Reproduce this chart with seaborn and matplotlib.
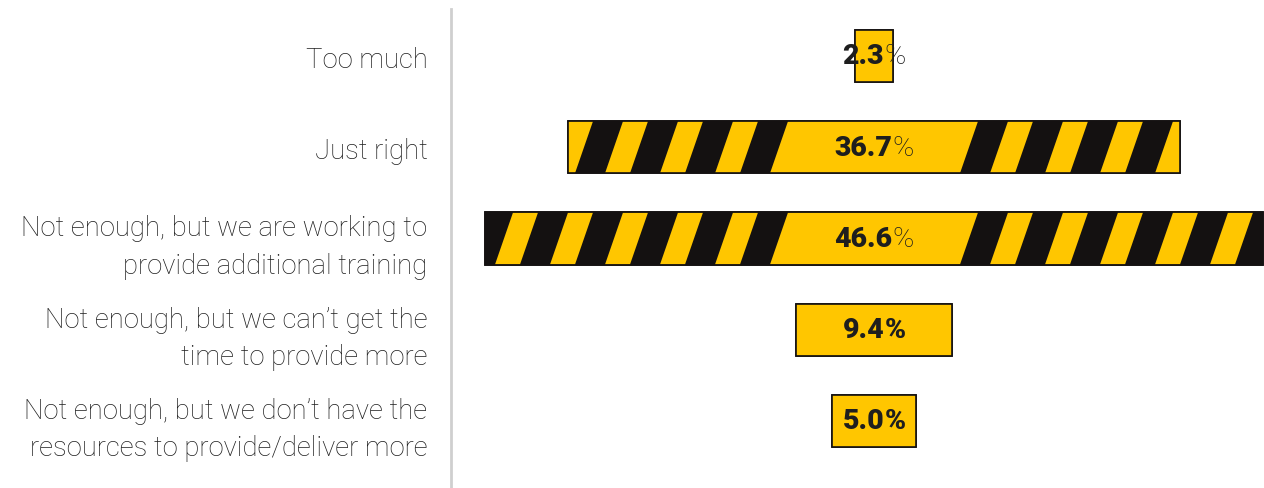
import matplotlib
matplotlib.use("Agg")
import matplotlib.pyplot as plt
from matplotlib.patches import Polygon, Rectangle
import seaborn as sns
import pandas as pd

# ---- data -------------------------------------------------------------
categories = [
    "Too much",
    "Just right",
    "Not enough, but we are working to\nprovide additional training",
    "Not enough, but we can\u2019t get the\ntime to provide more",
    "Not enough, but we don\u2019t have the\nresources to provide/deliver more",
]
shares = [2.3, 36.7, 46.6, 9.4, 5.0]
value_labels = ["2.3", "36.7", "46.6", "9.4", "5.0"]
percent_bold = [False, False, False, True, True]

# ---- style ------------------------------------------------------------
YELLOW = "#FFC600"
BLACK = "#141111"
GREY_LINE = "#cfcfcf"
TEXT = "#1e1e1e"

sns.set_theme(style="white")
plt.rcParams["font.family"] = ["Roboto", "DejaVu Sans"]

W, H = 1264, 489
fig = plt.figure(figsize=(W / 100, H / 100), dpi=100)
ax_left_px, ax_top_px = 451, 10
ax = fig.add_axes([ax_left_px / W, 0, 1 - ax_left_px / W, 1 - ax_top_px / H])

df = pd.DataFrame({"category": categories, "share": shares})
bar_h = 0.57
sns.barplot(data=df, y="category", x="share", orient="h", color=BLACK,
            saturation=1, width=bar_h, edgecolor=BLACK, linewidth=1.2, ax=ax)

# axis geometry: bars centred on x = 0
px_per_pct = 16.674
center_px = 874
ax.set_xlim((ax_left_px - center_px) / px_per_pct, (W - center_px) / px_per_pct)
row_px = 91.25
ax.set_ylim(4 + 67 / row_px, -47 / row_px)

# hazard stripe geometry, in pixels
half_plate = 95.0   # half-width of the central yellow plate at mid-height
black_w, yellow_w = 30.0, 25.0
lean = 9.0          # horizontal shift between mid-height and top/bottom


def stripe(x0_px, x1_px, yc, h):
    a, b = x0_px / px_per_pct, x1_px / px_per_pct
    d = lean / px_per_pct
    top, bot = yc - h / 2, yc + h / 2
    return [(a - d, bot), (b - d, bot), (b + d, top), (a + d, top)]


for i, patch in enumerate(ax.patches):
    w = patch.get_width()
    patch.set_x(-w / 2)
    yc = patch.get_y() + patch.get_height() / 2
    h = patch.get_height()
    spans = [(-half_plate, half_plate)]
    k = 0
    while half_plate + black_w + k * (black_w + yellow_w) < 460:
        s = half_plate + black_w + k * (black_w + yellow_w)
        spans.append((s, s + yellow_w))
        spans.append((-s - yellow_w, -s))
        k += 1
    for x0, x1 in spans:
        poly = Polygon(stripe(x0, x1, yc, h), closed=True, facecolor=YELLOW,
                       edgecolor="none", zorder=3)
        ax.add_patch(poly)
        poly.set_clip_path(patch)
    ax.add_patch(Rectangle((patch.get_x(), patch.get_y()), w, h, fill=False,
                           edgecolor=BLACK, linewidth=1.2, zorder=4))

# value labels: bold number followed by a light or bold percent sign
fig.canvas.draw()
renderer = fig.canvas.get_renderer()
for i, patch in enumerate(ax.patches[:len(shares)]):
    yc = patch.get_y() + patch.get_height() / 2
    num = ax.text(0, yc, value_labels[i], ha="left", va="center",
                  fontsize=20.5, fontweight="heavy", color=TEXT, zorder=5)
    pct = ax.text(0, yc, "%", ha="left", va="center", fontsize=20.5,
                  fontweight="heavy" if percent_bold[i] else "light",
                  color=TEXT, zorder=5)
    wn = num.get_window_extent(renderer).width
    wp = pct.get_window_extent(renderer).width
    total = wn + wp
    num.set_x(-total / 2 / px_per_pct)
    pct.set_x((-total / 2 + wn) / px_per_pct)

# category labels and divider line
ax.set_xlabel("")
ax.set_ylabel("")
ax.set_xticks([])
ax.tick_params(axis="y", length=0, pad=17)
for lab in ax.get_yticklabels():
    lab.set_fontsize(19.8)
    lab.set_fontweight("light")
    lab.set_color(TEXT)
    lab.set_linespacing(1.5)
for side in ["top", "right", "bottom"]:
    ax.spines[side].set_visible(False)
ax.spines["left"].set_color(GREY_LINE)
ax.spines["left"].set_linewidth(2)

fig.savefig("out.png", dpi=100)
